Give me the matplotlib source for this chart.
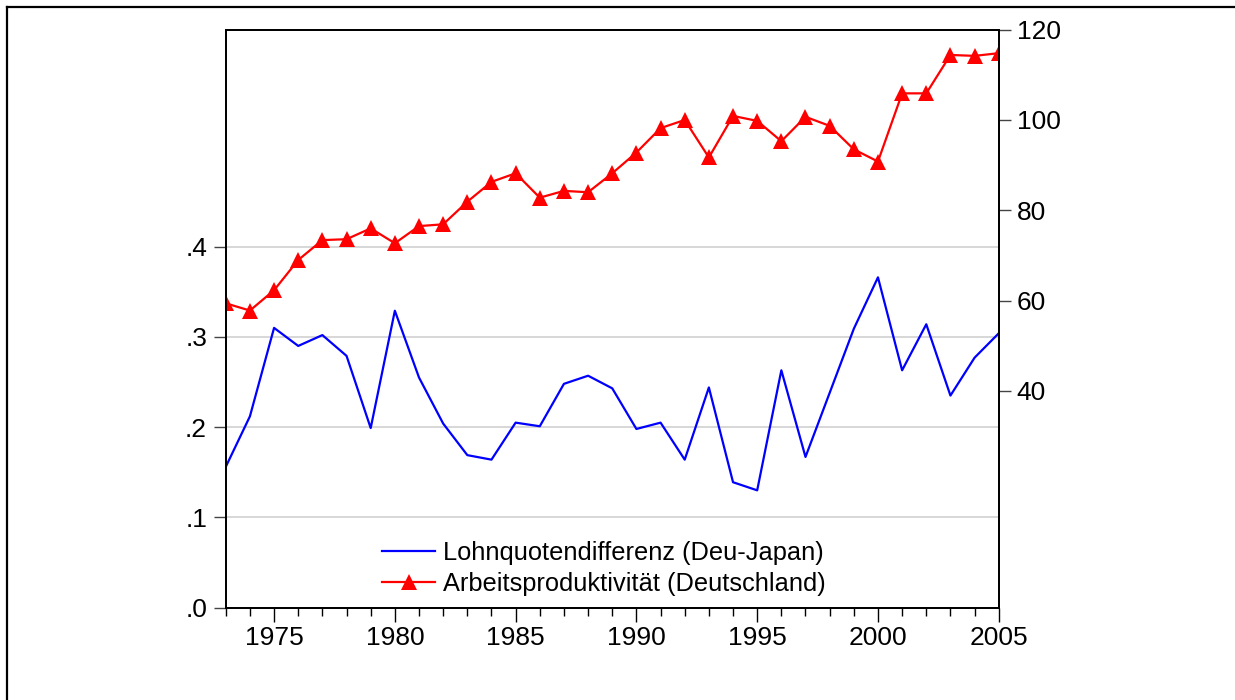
import matplotlib
matplotlib.use("Agg")
import matplotlib.pyplot as plt
from matplotlib.lines import Line2D
from matplotlib.ticker import FuncFormatter, MultipleLocator

plt.rcParams['font.family'] = ['Liberation Sans', 'DejaVu Sans']

years = list(range(1973, 2006))

# Lohnquotendifferenz (Deu-Japan), linke Achse
lohnquote = [0.156, 0.212, 0.310, 0.290, 0.302, 0.279, 0.199, 0.329, 0.255, 0.204,
             0.169, 0.164, 0.205, 0.201, 0.248, 0.257, 0.243, 0.198, 0.205, 0.164,
             0.244, 0.139, 0.130, 0.263, 0.167, 0.238, 0.309, 0.366, 0.263, 0.314,
             0.235, 0.277, 0.304]

# Arbeitsproduktivitaet (Deutschland), rechte Achse
produktivitaet = [59.4, 57.8, 62.3, 69.0, 73.4, 73.6, 76.0, 72.7, 76.5, 76.9,
                  81.9, 86.3, 88.2, 82.8, 84.3, 84.0, 88.2, 92.8, 98.2, 100.0,
                  91.7, 100.9, 99.8, 95.3, 100.7, 98.7, 93.5, 90.8, 105.9, 105.9,
                  114.4, 114.2, 114.8]

left_ticks = [0.0, 0.1, 0.2, 0.3, 0.4]
right_ticks = [40, 60, 80, 100, 120]
x_major = [1975, 1980, 1985, 1990, 1995, 2000, 2005]

labels = ["Lohnquotendifferenz (Deu-Japan)", "Arbeitsproduktivität (Deutschland)"]

fig = plt.figure(figsize=(12.35, 7), dpi=100)
ax = fig.add_axes([0.1828, 0.1319, 0.6259, 0.8257])
ax2 = ax.twinx()

l1, = ax.plot(years, lohnquote, color="#0000ff", lw=1.6)
l2, = ax2.plot(years, produktivitaet, color="#ff0000", lw=1.6,
               marker="^", markersize=11, markeredgewidth=0)

ax.set_xlim(1973, 2005)
ax.set_ylim(0, 0.6404)
ax2.set_ylim(-8, 120)

ax.set_yticks(left_ticks)
ax.yaxis.set_major_formatter(FuncFormatter(lambda v, p: f"{v:.1f}".lstrip("0")))
ax2.set_yticks(right_ticks)
ax.set_xticks(x_major)
ax.xaxis.set_minor_locator(MultipleLocator(1))

ax.yaxis.grid(True, color="#d4d4d4", lw=1.3)
ax.set_axisbelow(True)

ax.tick_params(axis="y", direction="out", length=8.5, width=1, pad=5,
               labelsize=19, color="#444444")
ax.tick_params(axis="x", which="major", direction="out", length=10, width=1,
               pad=3, labelsize=19)
ax.tick_params(axis="x", which="minor", direction="out", length=5.8, width=1)
ax2.tick_params(axis="y", direction="out", length=8.5, width=1, pad=4.5,
                labelsize=19, color="#444444")

for a in (ax, ax2):
    for s in a.spines.values():
        s.set_linewidth(1.3)

fig.legend([l1, l2], labels, loc="center left",
           bbox_to_anchor=(382 / 1235, 1 - 568.4 / 700),
           bbox_transform=fig.transFigure, frameon=False, fontsize=18.3,
           borderpad=0, borderaxespad=0, handlelength=2.1,
           handletextpad=0.3, labelspacing=0.3)

# Rahmen um die Grafik
fig.add_artist(Line2D([7 / 1235, 1], [1 - 7 / 700, 1 - 7 / 700],
                      transform=fig.transFigure, color="black", lw=1.6))
fig.add_artist(Line2D([7 / 1235, 7 / 1235], [0, 1 - 7 / 700],
                      transform=fig.transFigure, color="black", lw=1.6))

fig.savefig("out.png", dpi=100)
